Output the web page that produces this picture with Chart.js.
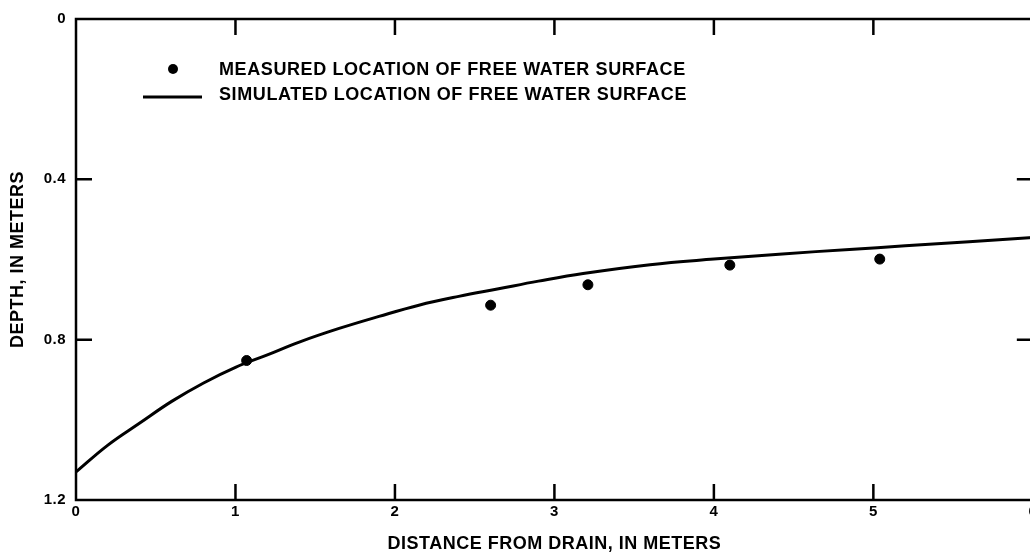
<!DOCTYPE html>
<html>
<head>
<meta charset="utf-8">
<script src="https://cdn.jsdelivr.net/npm/chart.js@4.4.1/dist/chart.umd.min.js"></script>
<style>
  html, body { margin: 0; padding: 0; background: #fff; overflow: hidden; }
  #wrap { width: 1040px; height: 553px; position: relative; }
</style>
</head>
<body>
<div id="wrap"><canvas id="drain"></canvas></div>
<script>
// measured free water surface (dots)
const measuredX = [1.07, 2.60, 3.21, 4.10, 5.04];
const measuredDepth = [0.852, 0.714, 0.663, 0.614, 0.599];
// simulated free water surface (curve)
const simX = [0, 0.2, 0.4, 0.6, 0.8, 1.0, 1.2, 1.4, 1.65, 1.9, 2.15, 2.4, 2.65, 2.9, 3.18, 3.6, 4.0, 4.43, 4.85, 5.2, 6.0];
const simDepth = [1.13, 1.063, 1.008, 0.954, 0.908, 0.869, 0.838, 0.806, 0.772, 0.742, 0.714, 0.692, 0.673, 0.654, 0.635, 0.613, 0.599, 0.586, 0.575, 0.566, 0.545];
// axes
const xTicks = [0, 1, 2, 3, 4, 5, 6];
const yTicks = [0, 0.4, 0.8, 1.2];

const FONT = "'Liberation Sans', Arial, sans-serif";

// frame with inward ticks on all four sides, plus the legend
const frame = {
  id: "frame",
  beforeDraw(chart) {
    chart.ctx.letterSpacing = "0.5px";
  },
  afterDraw(chart) {
    const ctx = chart.ctx;
    const a = chart.chartArea;
    const xs = chart.scales.x, ys = chart.scales.y;
    const tl = 16;
    ctx.save();
    ctx.strokeStyle = "#000";
    ctx.lineWidth = 2.5;
    ctx.strokeRect(a.left, a.top, a.right - a.left, a.bottom - a.top);
    ctx.beginPath();
    xTicks.slice(1, -1).forEach(v => {
      const px = xs.getPixelForValue(v);
      ctx.moveTo(px, a.bottom); ctx.lineTo(px, a.bottom - tl);
      ctx.moveTo(px, a.top); ctx.lineTo(px, a.top + tl);
    });
    yTicks.slice(1, -1).forEach(v => {
      const py = ys.getPixelForValue(v);
      ctx.moveTo(a.left, py); ctx.lineTo(a.left + tl, py);
      ctx.moveTo(a.right, py); ctx.lineTo(a.right - tl, py);
    });
    ctx.stroke();

    // legend
    const ds = chart.data.datasets;
    ctx.fillStyle = "#000";
    ctx.font = "bold 18px " + FONT;
    ctx.letterSpacing = "0.6px";
    ctx.textBaseline = "middle";
    ctx.beginPath();
    ctx.arc(173, 69, 5, 0, Math.PI * 2);
    ctx.fill();
    ctx.fillText(ds[0].label, 219, 70);
    ctx.lineWidth = 3;
    ctx.beginPath();
    ctx.moveTo(143, 97); ctx.lineTo(202, 97);
    ctx.stroke();
    ctx.fillText(ds[1].label, 219, 95);
    ctx.restore();
  }
};

new Chart(document.getElementById("drain"), {
  type: "scatter",
  data: {
    datasets: [
      {
        label: "MEASURED LOCATION OF FREE WATER SURFACE",
        data: measuredX.map((x, i) => ({ x: x, y: measuredDepth[i] })),
        backgroundColor: "#000",
        borderColor: "#000",
        pointRadius: 5,
        pointHoverRadius: 5,
      },
      {
        label: "SIMULATED LOCATION OF FREE WATER SURFACE",
        data: simX.map((x, i) => ({ x: x, y: simDepth[i] })),
        showLine: true,
        borderColor: "#000",
        borderWidth: 3,
        pointRadius: 0,
        tension: 0.4,
      },
    ],
  },
  options: {
    responsive: true,
    maintainAspectRatio: false,
    animation: false,
    layout: { padding: { top: 19, right: 6, left: 0, bottom: 0 } },
    plugins: {
      legend: { display: false },
      tooltip: { enabled: false },
    },
    scales: {
      x: {
        type: "linear",
        min: 0,
        max: 6,
        afterBuildTicks: s => { s.ticks = xTicks.map(v => ({ value: v })); },
        afterFit: s => { s.height = 53; },
        grid: { display: false, drawTicks: false },
        border: { display: false },
        ticks: { color: "#000", padding: 3, font: { family: FONT, size: 15, weight: "bold" } },
        title: {
          display: true,
          text: "DISTANCE FROM DRAIN, IN METERS",
          color: "#000",
          font: { family: FONT, size: 18, weight: "bold", lineHeight: 1 },
          padding: { top: 0, bottom: 0 },
        },
      },
      y: {
        type: "linear",
        reverse: true,
        min: 0,
        max: 1.2,
        afterBuildTicks: s => { s.ticks = yTicks.map(v => ({ value: v })); },
        afterFit: s => { s.width = 76; },
        grid: { display: false, drawTicks: false },
        border: { display: false },
        ticks: { color: "#000", padding: 10, font: { family: FONT, size: 15, weight: "bold" } },
        title: {
          display: true,
          text: "DEPTH, IN METERS",
          color: "#000",
          font: { family: FONT, size: 18, weight: "bold", lineHeight: 1 },
          padding: { top: 9, bottom: 0 },
        },
      },
    },
  },
  plugins: [frame],
});
</script>
</body>
</html>
